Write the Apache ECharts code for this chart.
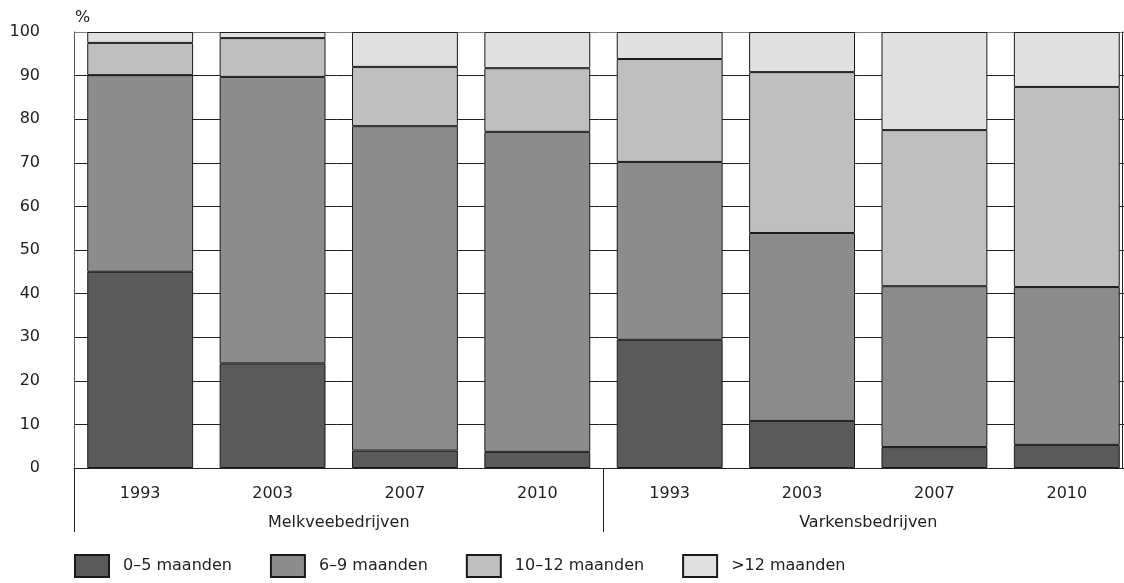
<!DOCTYPE html>
<html>
<head>
<meta charset="utf-8">
<script src="https://cdn.jsdelivr.net/npm/echarts@6/dist/echarts.min.js"></script>
<style>
  html, body { margin: 0; padding: 0; background: #fff; }
  #main { width: 1124px; height: 583px; }
</style>
</head>
<body>
<div id="main"></div>
<script>
// categorieën en waarden (procenten per bedrijfstype en jaar)
var years = ['1993', '2003', '2007', '2010', '1993', '2003', '2007', '2010'];
var groups = ['Melkveebedrijven', 'Varkensbedrijven'];
var names = ['0–5 maanden', '6–9 maanden', '10–12 maanden', '>12 maanden'];
var v0_5 = [45, 24, 4, 3.7, 29.4, 10.8, 4.8, 5.3];
var v6_9 = [45.1, 65.7, 74.4, 73.4, 40.8, 43.1, 36.9, 36.2];
var v10_12 = [7.4, 8.9, 13.6, 14.6, 23.6, 36.9, 35.8, 45.9];
var v12plus = [2.5, 1.4, 8, 8.3, 6.2, 9.2, 22.5, 12.6];
var colors = ['#5a5a5a', '#8c8c8c', '#bfbfbf', '#e0e0e0'];

var myChart = echarts.init(document.getElementById('main'));
var font = 'DejaVu Sans';

function serie(i, data) {
    return {
        name: names[i],
        type: 'bar',
        stack: 'totaal',
        barCategoryGap: '20%',
        data: data,
        itemStyle: { color: colors[i], borderColor: '#1a1a1a', borderWidth: 1 }
    };
}

// rasterlijnen zwart, bovenste lijn grijs
var gridColors = [];
for (var i = 0; i < 10; i++) gridColors.push('#222');
gridColors.push('#808080');

var option = {
    animation: false,
    textStyle: { fontFamily: font },
    grid: { left: 74, top: 32, width: 1059, height: 436, outerBoundsMode: 'none', containLabel: false },
    legend: {
        left: 74,
        top: 554,
        padding: 0,
        itemWidth: 34,
        itemHeight: 22,
        itemGap: 38,
        icon: 'rect',
        data: names,
        textStyle: { fontFamily: font, fontSize: 16, color: '#222', padding: [0, 0, 0, 9] }
    },
    xAxis: [{
        type: 'category',
        data: years,
        axisLine: { show: true, lineStyle: { color: '#222', width: 1 } },
        axisTick: { show: false },
        axisLabel: { fontSize: 16, color: '#222', margin: 18, interval: 0 }
    }, {
        type: 'category',
        data: groups,
        position: 'bottom',
        axisLine: { show: false },
        axisTick: { show: true, length: 64, interval: 0, lineStyle: { color: '#222' } },
        axisLabel: { fontSize: 16, color: '#222', margin: 47, interval: 0 }
    }],
    yAxis: [{
        type: 'value',
        min: 0,
        max: 100,
        interval: 10,
        name: '%',
        nameLocation: 'end',
        nameGap: 6,
        nameTextStyle: { fontSize: 16, color: '#222', align: 'left', padding: [0, 0, 0, 1] },
        axisLine: { show: true, lineStyle: { color: '#555' } },
        axisTick: { show: false },
        axisLabel: { fontSize: 16, color: '#222', margin: 34 },
        splitLine: { show: true, lineStyle: { color: gridColors, width: 1 } }
    }, {
        type: 'value',
        min: 0,
        max: 100,
        position: 'right',
        offset: -11,
        axisLine: { show: true, lineStyle: { color: '#222' } },
        axisTick: { show: false },
        axisLabel: { show: false },
        splitLine: { show: false }
    }],
    series: [
        serie(0, v0_5),
        serie(1, v6_9),
        serie(2, v10_12),
        serie(3, v12plus)
    ]
};

myChart.setOption(option);
</script>
</body>
</html>
